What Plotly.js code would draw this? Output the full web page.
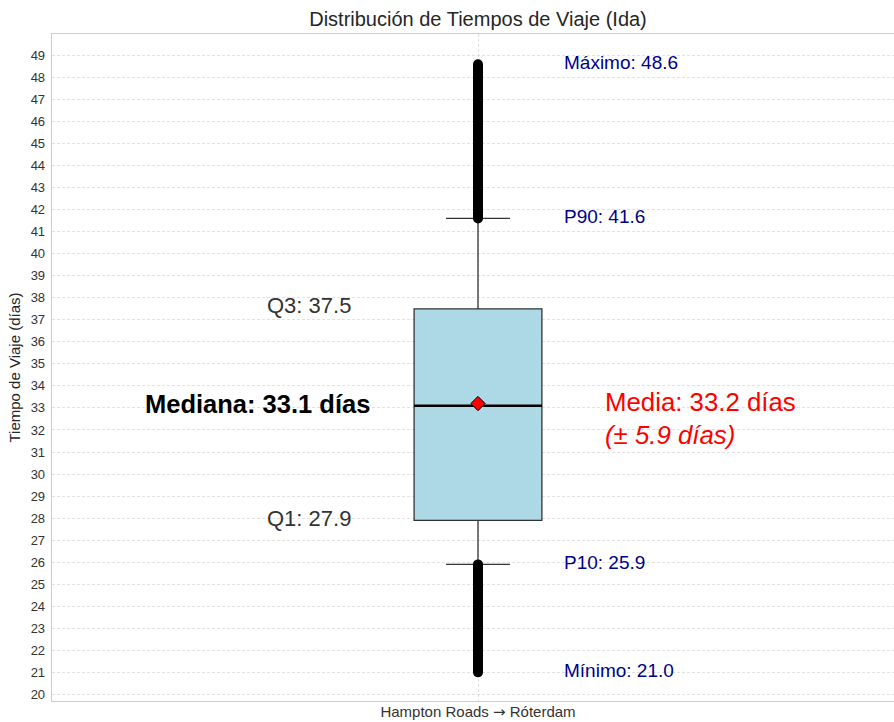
<!DOCTYPE html>
<html>
<head>
<meta charset="utf-8">
<script src="https://cdn.plot.ly/plotly-3.0.1.min.js"></script>
<style>
html, body { margin: 0; padding: 0; overflow: hidden; background: #fff; }
#chart { width: 904px; height: 722px; }
</style>
</head>
<body>
<div id="chart"></div>
<script>
// ---- Data ----
const categories = ['Hampton Roads → Róterdam'];
const q1Values = [27.9];
const medianValues = [33.1];
const q3Values = [37.5];
const meanValues = [33.2];
const stdValues = [5.9];
const p10Values = [25.9];
const p90Values = [41.6];
const minValues = [21.0];
const maxValues = [48.6];

// ---- Style ----
const FONT = 'Liberation Sans, Arial, sans-serif';
const NAVY = '#00008B';
const boxWidth = 0.15;
const xPos = categories.map((c, i) => i);
const tickText = categories.map(c => c.replace('→', '<span style="font-family:DejaVu Sans">→</span>'));

const traces = [];

// Outliers (dense bands beyond P10 / P90)
xPos.forEach((x, i) => {
  traces.push({
    type: 'scatter', mode: 'lines+markers',
    x: [x, x], y: [p90Values[i], maxValues[i]],
    line: { color: 'black', width: 10 },
    marker: { color: 'black', size: 10 },
    hoverinfo: 'skip', showlegend: false
  });
  traces.push({
    type: 'scatter', mode: 'lines+markers',
    x: [x, x], y: [minValues[i], p10Values[i]],
    line: { color: 'black', width: 10 },
    marker: { color: 'black', size: 10 },
    hoverinfo: 'skip', showlegend: false
  });
});

// Box
traces.push({
  type: 'box',
  x: xPos,
  q1: q1Values, median: medianValues, q3: q3Values,
  lowerfence: p10Values, upperfence: p90Values,
  width: boxWidth, whiskerwidth: 0.5,
  fillcolor: '#ADD8E6',
  line: { color: '#333333', width: 1.3 },
  boxpoints: false, hoverinfo: 'skip', showlegend: false
});

// Thick median line
xPos.forEach((x, i) => {
  traces.push({
    type: 'scatter', mode: 'lines',
    x: [x - boxWidth / 2, x + boxWidth / 2], y: [medianValues[i], medianValues[i]],
    line: { color: 'black', width: 2.5 },
    hoverinfo: 'skip', showlegend: false
  });
});

// Mean marker
traces.push({
  type: 'scatter', mode: 'markers',
  x: xPos, y: meanValues,
  marker: { symbol: 'diamond', size: 11, color: 'red', line: { color: 'black', width: 1 } },
  hoverinfo: 'skip', showlegend: false
});

const i0 = 0;
const annotations = [
  { text: 'Máximo: ' + maxValues[i0].toFixed(1), y: maxValues[i0], yshift: 2, x: 0.098, xanchor: 'left', font: { size: 19, color: NAVY } },
  { text: 'P90: ' + p90Values[i0].toFixed(1), y: p90Values[i0], yshift: 2, x: 0.098, xanchor: 'left', font: { size: 19, color: NAVY } },
  { text: 'P10: ' + p10Values[i0].toFixed(1), y: p10Values[i0], yshift: 2, x: 0.098, xanchor: 'left', font: { size: 19, color: NAVY } },
  { text: 'Mínimo: ' + minValues[i0].toFixed(1), y: minValues[i0], yshift: 2, x: 0.098, xanchor: 'left', font: { size: 19, color: NAVY } },
  { text: 'Q3: ' + q3Values[i0].toFixed(1), y: q3Values[i0], yshift: 3, x: -0.147, xanchor: 'right', font: { size: 22, color: '#333333' } },
  { text: 'Q1: ' + q1Values[i0].toFixed(1), y: q1Values[i0], yshift: 2, x: -0.147, xanchor: 'right', font: { size: 22, color: '#333333' } },
  { text: '<b>Mediana: ' + medianValues[i0].toFixed(1) + ' días</b>', y: medianValues[i0], yshift: 2, x: -0.125, xanchor: 'right', font: { size: 25.5, color: 'black' } },
  { text: 'Media: ' + meanValues[i0].toFixed(1) + ' días', y: meanValues[i0], yshift: 2, x: 0.147, xanchor: 'left', font: { size: 25.8, color: 'red' } },
  { text: '<i>(± ' + stdValues[i0].toFixed(1) + ' días)</i>', y: meanValues[i0], yshift: -31, x: 0.147, xanchor: 'left', font: { size: 25.8, color: 'red' } }
].map(a => Object.assign({ xref: 'x', yref: 'y', yanchor: 'middle', showarrow: false }, a, { font: Object.assign({ family: FONT }, a.font) }));

const layout = {
  width: 904, height: 722,
  margin: { l: 52, r: 0, t: 34, b: 21 },
  paper_bgcolor: 'white', plot_bgcolor: 'white',
  font: { family: FONT, color: '#333333' },
  showlegend: false,
  hovermode: false,
  title: {
    text: 'Distribución de Tiempos de Viaje (Ida)',
    font: { family: FONT, size: 20, color: '#262626' },
    xref: 'paper', x: 0.5, xanchor: 'center',
    yref: 'container', y: 1 - 19 / 722, yanchor: 'middle'
  },
  xaxis: {
    range: [-0.5, 0.5],
    tickvals: xPos, ticktext: tickText,
    tickfont: { family: FONT, size: 15, color: '#333333' },
    ticks: '', ticklabelstandoff: -3,
    showgrid: true, gridcolor: '#d9d9d9', griddash: '3px,2px', gridwidth: 0.8,
    zeroline: false, showline: true, mirror: true, linecolor: '#cccccc', linewidth: 1.3
  },
  yaxis: {
    range: [19.7, 49.97],
    tick0: 20, dtick: 1,
    tickfont: { family: FONT, size: 13, color: '#333333' },
    ticks: '', ticklabelstandoff: 3,
    showgrid: true, gridcolor: '#d9d9d9', griddash: '3px,2px', gridwidth: 0.8,
    zeroline: false, showline: true, mirror: true, linecolor: '#cccccc', linewidth: 1.3,
    title: { text: 'Tiempo de Viaje (días)', font: { family: FONT, size: 15, color: '#262626' }, standoff: 6 }
  },
  annotations: annotations
};

Plotly.newPlot('chart', traces, layout, { displayModeBar: false, staticPlot: true });
</script>
</body>
</html>
